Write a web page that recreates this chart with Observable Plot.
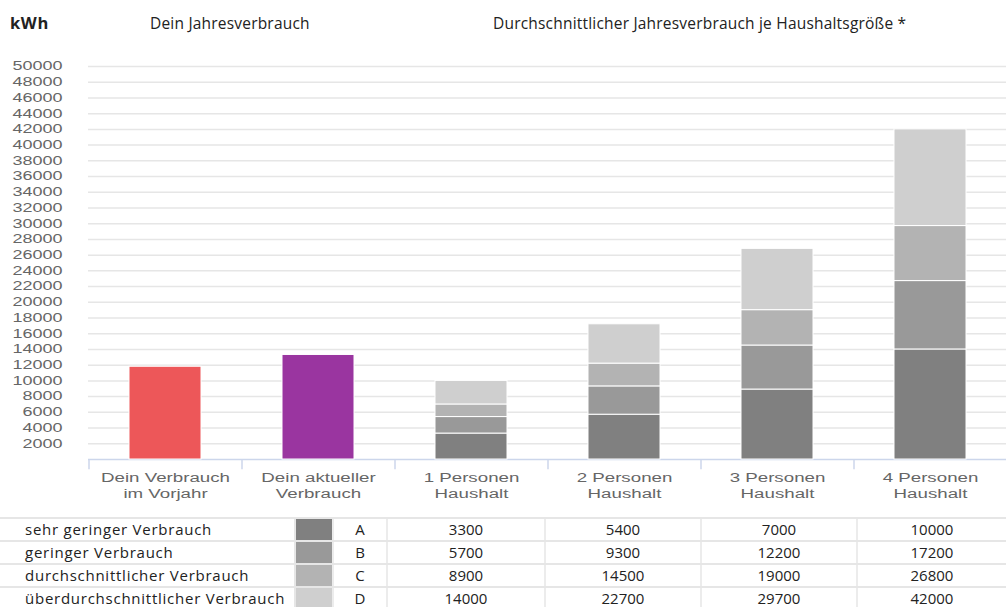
<!DOCTYPE html>
<html><head><meta charset="utf-8">
<script src="https://cdn.jsdelivr.net/npm/d3@7"></script>
<script src="https://cdn.jsdelivr.net/npm/@observablehq/plot@0.6"></script>
<style>
body{margin:0;background:#fff;width:1006px;height:607px;overflow:hidden;position:relative;font-family:"Open Sans",sans-serif}
#head{position:absolute;top:0;left:0;width:1006px;height:50px;font-size:15.5px;color:#222;letter-spacing:0.2px}
#head span{position:absolute;top:12px;white-space:nowrap}
#chart{position:absolute;top:50px;left:0}
#tbl{position:absolute;top:517px;left:0;border-collapse:collapse;table-layout:fixed;width:1006px;font-size:15px;color:#222}
#tbl td{border-top:2px solid #e6e6e6;border-bottom:2px solid #e6e6e6;border-left:2px solid #ececec;height:21px;padding:0;line-height:21px;text-align:center;white-space:nowrap}
#tbl td.lab{text-align:left;padding-left:25px;border-left:none;letter-spacing:0.75px}
#tbl td.sw{border-left:2px solid #e6e6e6}
</style>
</head><body>
<div id="head"><span style="left:10px;top:11px;font-weight:bold;letter-spacing:0.6px;font-size:16.5px">kWh</span><span id="t1" style="left:150px">Dein Jahresverbrauch</span><span id="t2" style="left:493px">Durchschnittlicher Jahresverbrauch je Haushaltsgröße *</span></div>
<div id="chart"></div>
<table id="tbl"></table>
<script>
// ---- data ----
const categories = ["Dein Verbrauch\nim Vorjahr", "Dein aktueller\nVerbrauch", "1 Personen\nHaushalt", "2 Personen\nHaushalt", "3 Personen\nHaushalt", "4 Personen\nHaushalt"];
const ownCategories = ["Dein Verbrauch\nim Vorjahr", "Dein aktueller\nVerbrauch"];
const ownValues = [11800, 13300];
const ownColors = ["#ed5759", "#9a35a0"];
const householdCategories = ["1 Personen\nHaushalt", "2 Personen\nHaushalt", "3 Personen\nHaushalt", "4 Personen\nHaushalt"];
const levelKeys = ["A", "B", "C", "D"];
const levelNames = ["sehr geringer Verbrauch", "geringer Verbrauch", "durchschnittlicher Verbrauch", "überdurchschnittlicher Verbrauch"];
const levelColors = ["#808080", "#999999", "#b3b3b3", "#cfcfcf"];
const household1 = [3300, 5400, 7000, 10000];
const household2 = [5700, 9300, 12200, 17200];
const household3 = [8900, 14500, 19000, 26800];
const household4 = [14000, 22700, 29700, 42000];
const householdValues = [household1, household2, household3, household4];
const yTicks = d3.range(2000, 50001, 2000);

// ---- derived tables ----
const ownData = ownCategories.map((c, i) => ({cat: c, value: ownValues[i], color: ownColors[i]}));
const stackData = [];
householdCategories.forEach((c, i) => {
  householdValues[i].forEach((v, j) => {
    stackData.push({cat: c, level: levelKeys[j], y1: j === 0 ? 0 : householdValues[i][j - 1], y2: v});
  });
});

const W = 1006, H = 455, ML = 88, MR = 0, MT = 16, MB = 46;
const step = (W - ML - MR) / categories.length;

const chart = Plot.plot({
  width: W, height: H,
  marginLeft: ML, marginRight: MR, marginTop: MT, marginBottom: MB,
  style: {fontFamily: "'Liberation Sans', Arial, sans-serif", fontSize: "12px", background: "#fff"},
  x: {domain: categories, paddingInner: 0.53, paddingOuter: 0.265, label: null},
  y: {domain: [0, 50000], label: null},
  color: {domain: levelKeys, range: levelColors},
  marks: [
    Plot.ruleY(yTicks, {stroke: "#e6e6e6", strokeWidth: 1.5}),
    Plot.ruleY([0], {stroke: "#ccd6eb", strokeWidth: 1.5}),
    Plot.ruleX(categories, {x: d => d, dx: -step / 2, y1: 0, y2: -1300, stroke: "#ccd6eb", strokeWidth: 1.5}),
    Plot.barY(ownData, {x: "cat", y: "value", fill: "color", stroke: "#fff", strokeWidth: 1}),
    Plot.barY(stackData, {x: "cat", y1: "y1", y2: "y2", fill: "level", stroke: "#fff", strokeWidth: 1}),
    Plot.axisY({ticks: yTicks, tickSize: 0, tickPadding: 26, tickFormat: d => String(d), fill: "#666", fontSize: 12}),
    Plot.axisX({tickSize: 0, tickPadding: 11, fill: "#666", fontSize: 12, lineHeight: 1.35})
  ]
});
document.getElementById("chart").appendChild(chart);

// stretch tick labels horizontally like the reference
d3.select(chart).selectAll('g[aria-label="y-axis tick label"] text').each(function() {
  const t = this.getAttribute("transform") || "";
  this.setAttribute("transform", t + " scale(1.5,1)");
});
d3.select(chart).selectAll('g[aria-label="x-axis tick label"] text').each(function() {
  const t = this.getAttribute("transform") || "";
  this.setAttribute("transform", t + " scale(1.56,1)");
});

// ---- table ----
const tbl = d3.select("#tbl");
const cg = tbl.append("colgroup");
[295, 38, 54, 158, 156, 156, 149].forEach(w => cg.append("col").style("width", w + "px"));
levelNames.forEach((name, i) => {
  const tr = tbl.append("tr");
  tr.append("td").attr("class", "lab").text(name);
  tr.append("td").attr("class", "sw").style("background", levelColors[i]);
  tr.append("td").text(levelKeys[i]);
  householdValues[i].forEach(v => tr.append("td").text(v));
});
</script>
</body></html>
